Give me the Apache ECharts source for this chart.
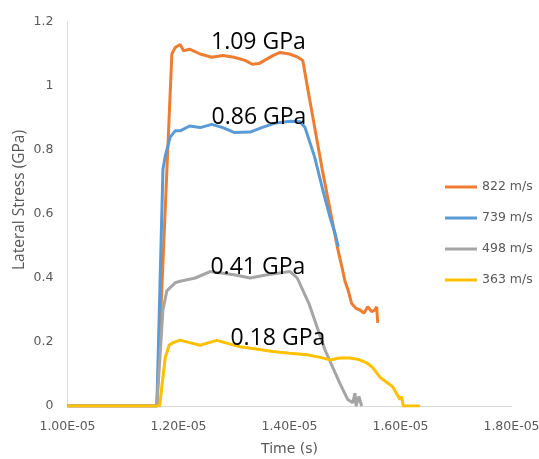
<!DOCTYPE html>
<html>
<head>
<meta charset="utf-8">
<style>
  html, body { margin: 0; padding: 0; background: #fff; }
  #main { width: 539px; height: 459px; }
</style>
<script src="https://cdn.jsdelivr.net/npm/echarts@6/dist/echarts.min.js"></script>
</head>
<body>
<div id="main"></div>
<script>
// time in microseconds, stress in GPa
var s822 = [[10,0],[11.61,0],[11.88,1.10],[11.94,1.12],[12.03,1.13],[12.09,1.11],[12.2,1.115],[12.39,1.10],[12.6,1.09],[12.8,1.095],[13.0,1.09],[13.2,1.08],[13.33,1.068],[13.45,1.07],[13.55,1.08],[13.7,1.095],[13.83,1.105],[14.0,1.10],[14.15,1.09],[14.24,1.08],[14.33,0.99],[14.6,0.73],[14.87,0.49],[14.95,0.43],[15.0,0.39],[15.06,0.36],[15.12,0.32],[15.2,0.305],[15.27,0.30],[15.34,0.29],[15.41,0.31],[15.48,0.295],[15.54,0.30],[15.57,0.31],[15.59,0.26]];
var s739 = [[10,0],[11.61,0],[11.72,0.74],[11.76,0.78],[11.85,0.84],[11.94,0.86],[12.03,0.86],[12.2,0.875],[12.39,0.87],[12.6,0.88],[12.8,0.87],[13.0,0.855],[13.29,0.856],[13.5,0.87],[13.74,0.884],[14.01,0.89],[14.19,0.888],[14.28,0.87],[14.45,0.78],[14.6,0.675],[14.73,0.59],[14.82,0.54],[14.88,0.497]];
var s498 = [[10,0],[11.61,0],[11.72,0.3],[11.79,0.36],[11.85,0.37],[11.94,0.385],[12.03,0.39],[12.3,0.40],[12.57,0.42],[12.8,0.415],[13.0,0.41],[13.29,0.40],[13.6,0.41],[14.01,0.42],[14.14,0.40],[14.35,0.32],[14.64,0.175],[14.91,0.07],[15.05,0.02],[15.14,0.01],[15.18,0.04],[15.2,0],[15.25,0.03],[15.3,0]];
var s363 = [[10,0],[11.66,0],[11.76,0.15],[11.83,0.19],[11.89,0.197],[12.03,0.206],[12.2,0.198],[12.39,0.19],[12.55,0.198],[12.69,0.205],[12.9,0.195],[13.11,0.185],[13.4,0.178],[13.7,0.17],[14.0,0.165],[14.32,0.16],[14.55,0.152],[14.73,0.144],[14.9,0.15],[15.09,0.15],[15.25,0.145],[15.39,0.135],[15.5,0.12],[15.63,0.09],[15.86,0.06],[15.99,0.02],[16.02,0.03],[16.05,0],[16.35,0]];

var seriesNames = ['822 m/s', '739 m/s', '498 m/s', '363 m/s'];
var seriesColors = ['#ED7D31', '#5B9BD5', '#A5A5A5', '#FFC000'];
var xTickLabels = ['1.00E-05', '1.20E-05', '1.40E-05', '1.60E-05', '1.80E-05'];
var peakLabels = ['1.09 GPa', '0.86 GPa', '0.41 GPa', '0.18 GPa'];
var peakCoords = [[13.44, 1.1375], [13.45, 0.903], [13.43, 0.434], [13.79, 0.2125]];

var allData = [s822, s739, s498, s363];

var series = [];
for (var i = 0; i < allData.length; i++) {
  series.push({
    name: seriesNames[i],
    type: 'line',
    data: allData[i],
    showSymbol: false,
    symbol: 'none',
    lineStyle: { width: 3, color: seriesColors[i] },
    itemStyle: { color: seriesColors[i] },
    animation: false,
    markPoint: {
      symbol: 'circle',
      symbolSize: 0,
      data: [{
        coord: peakCoords[i],
        label: {
          show: true,
          position: 'inside',
          formatter: peakLabels[i],
          color: '#000',
          fontSize: 23,
          fontFamily: 'Open Sans'
        }
      }]
    }
  });
}

var option = {
  backgroundColor: '#fff',
  animation: false,
  grid: { left: 67.5, right: 27.5, top: 22, bottom: 53, outerBoundsMode: 'none' },
  legend: {
    orient: 'vertical',
    left: 445,
    top: 179,
    padding: 0,
    icon: 'rect',
    itemWidth: 32,
    itemHeight: 3,
    itemGap: 15,
    data: seriesNames,
    textStyle: { color: '#595959', fontSize: 12.5, fontFamily: 'DejaVu Sans', lineHeight: 16 }
  },
  graphic: [{
    type: 'text',
    x: 20,
    y: 200,
    rotation: Math.PI / 2,
    style: {
      text: 'Lateral Stress (GPa)',
      fill: '#595959',
      font: '15.5px "Open Sans"',
      align: 'center',
      verticalAlign: 'middle'
    }
  }],
  xAxis: {
    type: 'value',
    min: 10,
    max: 18,
    interval: 2,
    name: 'Time (s)',
    nameLocation: 'middle',
    nameGap: 36,
    nameTextStyle: { color: '#595959', fontSize: 14, fontFamily: 'DejaVu Sans' },
    axisLine: { show: true, lineStyle: { color: '#d9d9d9', width: 1 } },
    axisTick: { show: false },
    splitLine: { show: false },
    axisLabel: {
      color: '#595959',
      fontSize: 12.5,
      fontFamily: 'DejaVu Sans',
      margin: 14,
      formatter: function (v) { return xTickLabels[Math.round((v - 10) / 2)]; }
    }
  },
  yAxis: {
    type: 'value',
    min: 0,
    max: 1.2,
    interval: 0.2,
    axisLine: { show: true, lineStyle: { color: '#d9d9d9', width: 1 } },
    axisTick: { show: false },
    splitLine: { show: false },
    axisLabel: { color: '#595959', fontSize: 12.5, fontFamily: 'DejaVu Sans', margin: 14 }
  },
  series: series
};

var myChart = echarts.init(document.getElementById('main'));
myChart.setOption(option);
</script>
</body>
</html>
